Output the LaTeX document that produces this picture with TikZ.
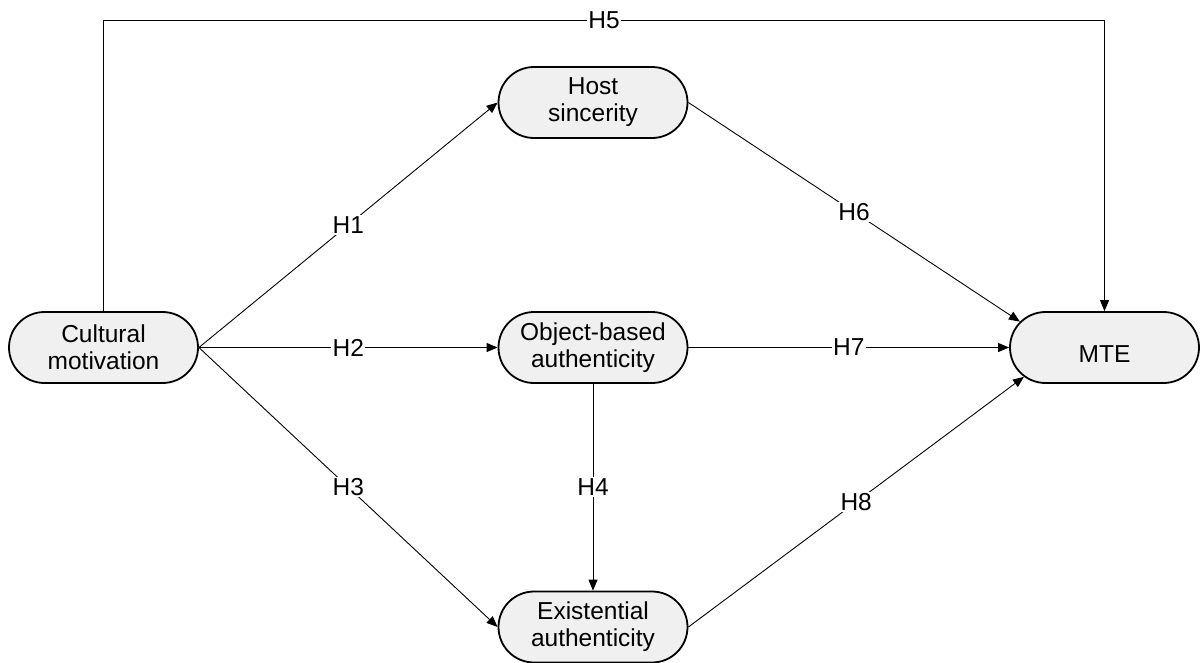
\documentclass[tikz,border=0pt]{standalone}
\usepackage{fontspec}
\setmainfont{Liberation Sans}
\usetikzlibrary{arrows.meta,shapes.misc}
\definecolor{nodefill}{HTML}{F0F0F0}
\begin{document}
\begin{tikzpicture}[x=1pt,y=-1pt,
  construct/.style={rounded rectangle, draw=black, line width=1.8pt, fill=nodefill,
    minimum width=189pt, minimum height=71pt, inner sep=0pt, align=center,
    font=\fontsize{24.5}{27}\selectfont},
  link/.style={draw=black, line width=0.9pt, -{Triangle[length=11pt,width=9pt]}},
  hyp/.style={fill=white, inner sep=1.5pt, font=\fontsize{24.5}{27}\selectfont}]
\useasboundingbox (0,0) rectangle (1203,662);
\node[construct] (cm) at (103.5,347.5) {Cultural\\motivation};
\node[construct] (hs) at (593,102.5) {Host\\sincerity};
\node[construct] (ob) at (593,347.5) {Object-based\\authenticity};
\node[construct] (ea) at (593,627) {Existential\\authenticity};
\node[construct, text height=31pt, text depth=0.4pt] (mte) at (1104.5,347.5) {MTE};
\coordinate (t1) at (103.5,20);
\coordinate (t2) at (1104.5,20);
\draw[link] (cm.east) -- node[hyp]{H1} (hs.west);
\draw[link] (cm.east) -- node[hyp]{H2} (ob.west);
\draw[link] (cm.east) -- node[hyp]{H3} (ea.west);
\draw[link] (ob.south) -- node[hyp]{H4} (ea.north);
\draw[link] (cm.north) -- (t1) -- node[hyp]{H5} (t2) -- (mte.north);
\draw[link] (hs.east) -- node[hyp]{H6} (mte.163);
\draw[link] (ob.east) -- node[hyp]{H7} (mte.west);
\draw[link] (ea.east) -- node[hyp]{H8} (mte.200);
\end{tikzpicture}
\end{document}
